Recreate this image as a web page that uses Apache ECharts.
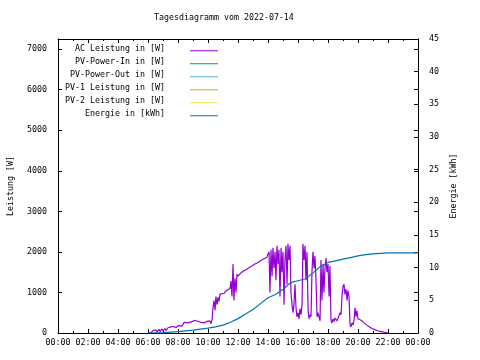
<!DOCTYPE html>
<html>
<head>
<meta charset="utf-8">
<script src="https://cdn.jsdelivr.net/npm/echarts@6/dist/echarts.min.js"></script>
<style>html,body{margin:0;padding:0;background:#fff}#c{width:480px;height:360px}</style>
</head>
<body>
<div id="c"></div>
<script>
// ---- data ----
const titleText = 'Tagesdiagramm vom 2022-07-14';
const seriesNames = ['AC Leistung in [W]', 'PV-Power-In in [W]', 'PV-Power-Out in [W]', 'PV-1 Leistung in [W]', 'PV-2 Leistung in [W]', 'Energie in [kWh]'];
const seriesColors = ['#9400d3', '#009e73', '#56b4e9', '#e69f00', '#f0e442', '#0072b2'];
const xTickHours = [0, 2, 4, 6, 8, 10, 12, 14, 16, 18, 20, 22, 24];

// AC Leistung (time in hours, value in W)
const acHours = [6.0,6.07,6.2,6.33,6.4,6.53,6.6,6.73,6.8,6.93,7.0,7.13,7.2,7.33,7.4,7.53,7.6,7.73,7.87,8.0,8.13,8.27,8.4,8.53,8.67,8.8,8.93,9.07,9.2,9.33,9.47,9.6,9.73,9.87,10.0,10.13,10.2,10.27,10.33,10.4,10.47,10.53,10.6,10.67,10.73,10.8,10.93,11.07,11.2,11.33,11.47,11.53,11.6,11.67,11.73,11.8,11.87,11.93,12.0,12.13,12.33,12.53,12.73,12.93,13.13,13.33,13.53,13.73,13.93,14.0,14.07,14.13,14.2,14.27,14.33,14.4,14.47,14.53,14.6,14.67,14.73,14.8,14.87,14.93,15.0,15.07,15.13,15.2,15.27,15.33,15.4,15.47,15.53,15.6,15.67,15.73,15.8,15.87,15.93,16.0,16.07,16.13,16.2,16.27,16.33,16.4,16.47,16.53,16.6,16.67,16.73,16.8,16.87,16.93,17.0,17.07,17.13,17.2,17.27,17.33,17.4,17.47,17.53,17.6,17.67,17.73,17.8,17.87,17.93,18.0,18.07,18.13,18.2,18.27,18.33,18.4,18.47,18.53,18.6,18.67,18.8,18.87,18.93,19.0,19.07,19.13,19.2,19.27,19.33,19.4,19.47,19.53,19.6,19.67,19.73,19.8,19.87,19.93,20.0,20.13,20.27,20.4,20.53,20.67,20.8,20.93,21.07,21.2,21.33,21.47,21.6,21.73,21.87,22.0];
const acWatts = [0,30,10,60,20,80,30,90,40,100,50,110,60,130,90,150,110,160,130,180,150,170,260,230,250,240,280,310,300,290,270,300,250,280,270,300,230,330,620,800,560,900,700,880,780,960,1000,980,1040,1070,1100,1280,900,1700,800,1350,1000,1450,1400,1460,1520,1560,1610,1650,1700,1740,1790,1830,1870,1950,2000,1000,2050,1400,2100,1600,2000,1300,2150,1700,2050,900,2100,1500,2000,700,1800,2150,1200,2200,1800,2150,1000,700,500,700,1200,600,400,500,350,600,450,700,2200,1800,2150,1300,2000,600,350,450,400,1500,2000,1600,1900,1300,400,500,400,300,1800,800,1700,1000,1600,1850,1500,1700,900,1650,300,250,350,280,370,330,300,260,500,450,900,1150,1200,950,1080,800,1050,900,200,150,250,200,300,620,400,550,350,380,300,250,230,170,140,110,90,70,50,40,30,20,10,0];

// Energie (time in hours, value in kWh)
const enHours = [6.0,7.0,8.0,9.0,9.5,10.0,10.5,11.0,11.5,12.0,12.5,13.0,13.5,14.0,14.5,15.0,15.5,16.0,16.5,17.0,17.5,18.0,18.5,19.0,19.5,20.0,20.5,21.0,21.5,22.0,24.0];
const enKWh  = [0,0.05,0.2,0.45,0.6,0.75,0.95,1.2,1.65,2.2,2.9,3.6,4.5,5.4,5.9,6.7,7.7,8.0,8.3,9.2,10.2,10.8,11.05,11.3,11.55,11.8,12.0,12.1,12.2,12.25,12.25];

// ---- chart ----
const FONT = 'DejaVu Sans Mono';
const FS = 8.3;
const pad2 = n => (n < 10 ? '0' : '') + n;

const chart = echarts.init(document.getElementById('c'), null, {renderer: 'canvas'});
const axisCommon = {
  axisLine: {show: true, onZero: false, lineStyle: {color: '#000', width: 1}},
  splitLine: {show: false}
};
const option = {
  animation: false,
  backgroundColor: '#fff',
  title: {
    text: titleText, left: 154, top: 14, padding: 0,
    textStyle: {fontFamily: FONT, fontSize: FS, fontWeight: 'normal', color: '#000'}
  },
  legend: seriesNames.map((n, i) => ({
    data: [n], right: 262, top: 44.5 + 13 * i, padding: 0,
    orient: 'vertical', align: 'right', icon: 'rect', itemWidth: 28, itemHeight: 1,
    selectedMode: false,
    formatter: name => name + '    \n ',
    textStyle: {fontFamily: FONT, fontSize: FS, color: '#000', lineHeight: 4.5}
  })),
  grid: {left: 58, right: 62, top: 39, bottom: 27, outerBoundsMode: 'none', containLabel: false},
  xAxis: [
    Object.assign({}, axisCommon, {
      type: 'value', min: 0, max: 24, interval: 2, position: 'bottom',
      axisTick: {inside: true, length: 4, lineStyle: {color: '#000'}},
      minorTick: {show: true, splitNumber: 2, length: 2, lineStyle: {color: '#000'}},
      axisLabel: {fontFamily: FONT, fontSize: FS, color: '#000', margin: 6,
        formatter: v => xTickHours.indexOf(v) >= 0 ? pad2(v % 24) + ':00' : ''}
    }),
    Object.assign({}, axisCommon, {
      type: 'value', min: 0, max: 24, interval: 2, position: 'top',
      axisTick: {inside: true, length: 4, lineStyle: {color: '#000'}},
      minorTick: {show: true, splitNumber: 2, length: 2, lineStyle: {color: '#000'}},
      axisLabel: {show: false}
    })
  ],
  yAxis: [
    Object.assign({}, axisCommon, {
      type: 'value', min: 0, max: 7250, interval: 1000, position: 'left',
      name: 'Leistung [W]', nameLocation: 'middle', nameGap: 43, nameRotate: 90,
      nameTextStyle: {fontFamily: FONT, fontSize: FS, color: '#000'},
      axisTick: {inside: true, length: 4, lineStyle: {color: '#000'}},
      axisLabel: {fontFamily: FONT, fontSize: FS, color: '#000', margin: 11, showMaxLabel: false,
        formatter: v => String(v)}
    }),
    Object.assign({}, axisCommon, {
      type: 'value', min: 0, max: 45, interval: 5, position: 'right',
      name: 'Energie [kWh]', nameLocation: 'middle', nameGap: 31, nameRotate: 90,
      nameTextStyle: {fontFamily: FONT, fontSize: FS, color: '#000'},
      axisTick: {inside: true, length: 4, lineStyle: {color: '#000'}},
      axisLabel: {fontFamily: FONT, fontSize: FS, color: '#000', margin: 11, formatter: v => String(v)}
    }),
    Object.assign({}, axisCommon, {
      type: 'value', min: 0, max: 7250, interval: 1000, position: 'right',
      axisTick: {inside: true, length: 4, lineStyle: {color: '#000'}},
      axisLabel: {show: false}
    })
  ],
  series: [
    {name: seriesNames[0], type: 'line', xAxisIndex: 0, yAxisIndex: 0, showSymbol: false,
      color: seriesColors[0], lineStyle: {width: 1.2, color: seriesColors[0]},
      data: acHours.map((h, i) => [h, acWatts[i]])},
    {name: seriesNames[1], type: 'line', yAxisIndex: 0, showSymbol: false, color: seriesColors[1], data: []},
    {name: seriesNames[2], type: 'line', yAxisIndex: 0, showSymbol: false, color: seriesColors[2], data: []},
    {name: seriesNames[3], type: 'line', yAxisIndex: 0, showSymbol: false, color: seriesColors[3], data: []},
    {name: seriesNames[4], type: 'line', yAxisIndex: 0, showSymbol: false, color: seriesColors[4], data: []},
    {name: seriesNames[5], type: 'line', xAxisIndex: 0, yAxisIndex: 1, showSymbol: false,
      color: seriesColors[5], lineStyle: {width: 1.2, color: seriesColors[5]},
      data: enHours.map((h, i) => [h, enKWh[i]])}
  ]
};
chart.setOption(option);
</script>
</body>
</html>
